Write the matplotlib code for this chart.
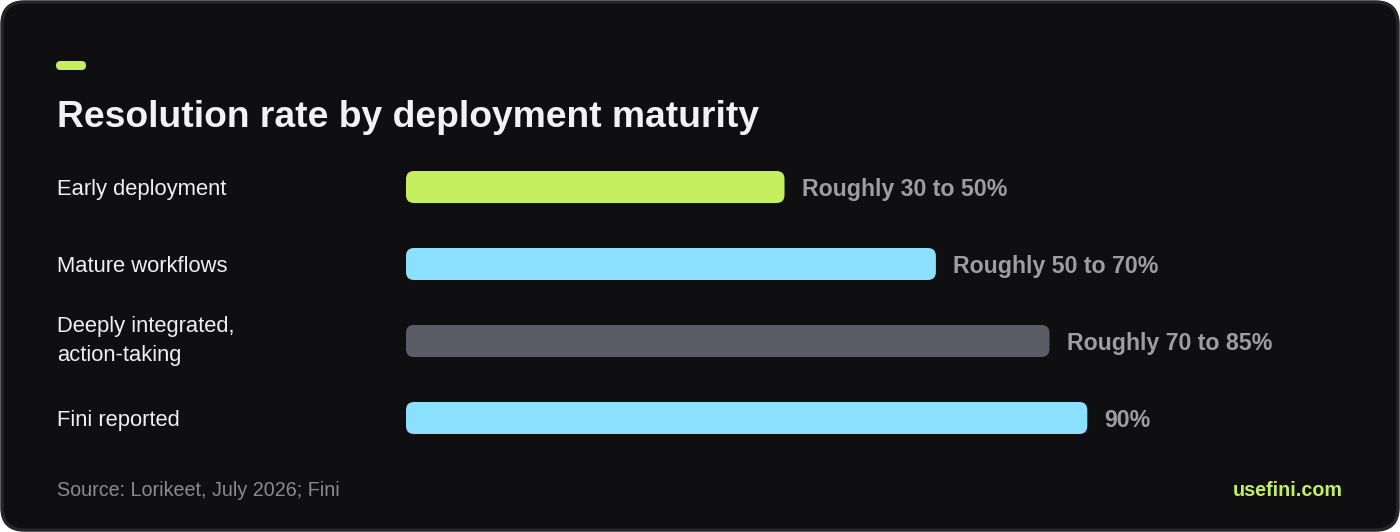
import matplotlib.pyplot as plt
from matplotlib.patches import FancyBboxPatch

# data
categories = ["Early deployment", "Mature workflows", "Deeply integrated,\naction-taking", "Fini reported"]
values = [50, 70, 85, 90]
value_labels = ["Roughly 30 to 50%", "Roughly 50 to 70%", "Roughly 70 to 85%", "90%"]
bar_colors = ["#c5ef5f", "#8ce0ff", "#5c5c66", "#8ce0ff"]

W, H = 1400, 532
plt.rcParams['font.family'] = ['Liberation Sans', 'DejaVu Sans']

fig = plt.figure(figsize=(W / 100, H / 100), dpi=100, facecolor="white")

# card background
card = FancyBboxPatch((2 / W, 2 / H), (W - 4) / W, (H - 4) / H,
                      boxstyle="round,pad=0,rounding_size=0.016",
                      mutation_aspect=W / H, zorder=-10,
                      transform=fig.transFigure, fc="#0f0f11", ec="#26262a", lw=2.5)
fig.patches.append(card)

# accent pill
pill = FancyBboxPatch((56 / W, 1 - 70 / H), 30 / W, 9 / H,
                      boxstyle="round,pad=0,rounding_size=0.0032",
                      mutation_aspect=W / H, zorder=-5,
                      transform=fig.transFigure, fc="#c5ef5f", ec="none")
fig.patches.append(pill)

fig.text(57 / W, 1 - 127 / H, "Resolution rate by deployment maturity",
         color="#f2f2f4", fontsize=26.8, fontweight="bold", va="baseline", ha="left")

# bars axis: 0% at x=406px, 100% at 1163px; rows centred at 187, 264, 341, 418 px
px_per_x = 757 / 100
row_px = 77
ax = fig.add_axes([406 / W, 1 - 456.5 / H, 757 / W, 4 * row_px / H])
ax.set_xlim(0, 100)
ax.set_ylim(3.5, -0.5)
ax.axis("off")

bar_h = 32 / row_px
r = 8 / px_per_x
for i, (v, c) in enumerate(zip(values, bar_colors)):
    p = FancyBboxPatch((0, i - bar_h / 2), v, bar_h,
                       boxstyle=f"round,pad=0,rounding_size={r}",
                       mutation_aspect=px_per_x / row_px,
                       fc=c, ec="none")
    ax.add_patch(p)
    ax.annotate(value_labels[i], (v, i), xytext=(12.3, 0), textcoords="offset points",
                va="center_baseline", ha="left", color="#9d9da3", fontsize=16.7,
                fontweight="bold", annotation_clip=False)
    ax.annotate(categories[i], (57 / W, i), xycoords=("figure fraction", "data"),
                va="center_baseline" if "\n" not in categories[i] else "center",
                ha="left", color="#f0f0f2", fontsize=15.8,
                linespacing=1.5, annotation_clip=False)

fig.text(57 / W, 1 - 488 / H, "Source: Lorikeet, July 2026; Fini",
         color="#8a8a90", fontsize=14.2, va="center_baseline", ha="left")
fig.text(1343 / W, 1 - 488 / H, "usefini.com",
         color="#c5ef5f", fontsize=14.2, fontweight="bold", va="center_baseline", ha="right")

fig.savefig("out.png", dpi=100, facecolor="white")
